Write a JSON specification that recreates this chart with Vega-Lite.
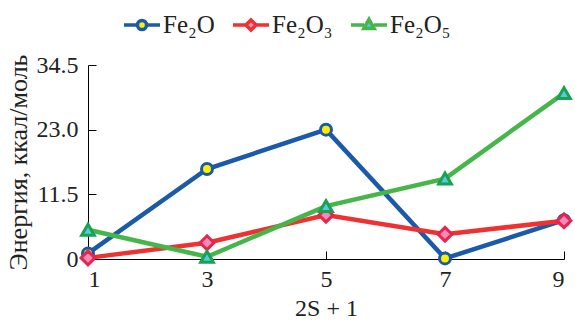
{
  "$schema": "https://vega.github.io/schema/vega-lite/v6.json",
  "width": 476,
  "height": 194,
  "autosize": {"type": "none"},
  "padding": {"left": 88, "top": 65, "right": 11, "bottom": 65},
  "background": "white",
  "config": {
    "view": {"stroke": null},
    "font": "Liberation Serif",
    "legend": {"labelFont": "Liberation Serif"},
    "axis": {"grid": false, "domainColor": "black", "tickColor": "black", "labelColor": "#222", "titleColor": "#222", "labelFont": "Liberation Serif", "titleFont": "Liberation Serif", "labelFontSize": 24, "titleFontSize": 24, "titleFontWeight": "normal", "tickSize": -8, "domainWidth": 1, "tickWidth": 1}
  },
  "data": {"values": [
    {"s": "Fe₂O", "x": 1, "y": 1.0},
    {"s": "Fe₂O", "x": 3, "y": 16.0},
    {"s": "Fe₂O", "x": 5, "y": 23.0},
    {"s": "Fe₂O", "x": 7, "y": 0.1},
    {"s": "Fe₂O", "x": 9, "y": 6.9},
    {"s": "Fe₂O₃", "x": 1, "y": 0.2},
    {"s": "Fe₂O₃", "x": 3, "y": 2.9},
    {"s": "Fe₂O₃", "x": 5, "y": 7.8},
    {"s": "Fe₂O₃", "x": 7, "y": 4.4},
    {"s": "Fe₂O₃", "x": 9, "y": 6.8},
    {"s": "Fe₂O₅", "x": 1, "y": 5.2},
    {"s": "Fe₂O₅", "x": 3, "y": 0.4},
    {"s": "Fe₂O₅", "x": 5, "y": 9.4},
    {"s": "Fe₂O₅", "x": 7, "y": 14.3},
    {"s": "Fe₂O₅", "x": 9, "y": 29.5}
  ]},
  "encoding": {
    "x": {"field": "x", "type": "quantitative", "scale": {"domain": [1, 9], "nice": false}, "axis": {"values": [1, 3, 5, 7, 9], "title": "2S + 1", "labelPadding": 16, "titlePadding": 5}},
    "y": {"field": "y", "type": "quantitative", "scale": {"domain": [0, 34.5], "nice": false}, "axis": {"values": [0, 11.5, 23, 34.5], "labelExpr": "datum.value == 0 ? '0' : format(datum.value, '.1f')", "title": "Энергия, ккал/моль", "titleFontSize": 26, "labelPadding": 18, "titlePadding": 5}}
  },
  "layer": [
    {
      "mark": {"type": "line", "strokeWidth": 4.5},
      "encoding": {
        "color": {"field": "s", "type": "nominal", "scale": {"domain": ["Fe₂O", "Fe₂O₃", "Fe₂O₅"], "range": ["#1b5aa8", "#ee3232", "#46b64a"]},
          "legend": {
            "title": null, "orient": "none", "direction": "horizontal", "legendX": 33, "legendY": -61,
            "labelFont": "Liberation Serif", "labelFontSize": 25, "labelColor": "#222", "symbolSize": 1444, "symbolStrokeWidth": 3.5, "labelOffset": 0, "columnPadding": 10,
            "encode": {"symbols": {"update": {
              "size": {"value": 1444},
              "shape": {"signal": "datum.value === 'Fe₂O' ? 'M-0.95,0L-0.24,0M0.24,0L0.95,0M0.24,0A0.24,0.24 0 1 1 -0.24,0A0.24,0.24 0 1 1 0.24,0Z' : datum.value === 'Fe₂O₃' ? 'M-0.95,0L-0.27,0M0.27,0L0.95,0M0,-0.27L0.27,0L0,0.27L-0.27,0Z' : 'M-0.95,0L-0.26,0M0.26,0L0.95,0M0,-0.3L0.27,0.18L-0.27,0.18Z'"},
              "fill": {"signal": "datum.value === 'Fe₂O' ? '#ffee00' : datum.value === 'Fe₂O₃' ? '#f08cba' : '#5bc5ea'"},
              "stroke": {"signal": "datum.value === 'Fe₂O' ? '#1b5aa8' : datum.value === 'Fe₂O₃' ? '#e8244e' : '#18a34e'"}
            }}}
          }
        }
      }
    },
    {
      "transform": [{"filter": "datum.s === 'Fe₂O'"}],
      "mark": {"type": "point", "shape": "circle", "size": 120, "fill": "#ffee00", "stroke": "#1b5aa8", "strokeWidth": 3, "opacity": 1}
    },
    {
      "transform": [{"filter": "datum.s === 'Fe₂O₃'"}],
      "mark": {"type": "point", "shape": "diamond", "size": 190, "fill": "#f08cba", "stroke": "#e8244e", "strokeWidth": 3, "opacity": 1}
    },
    {
      "transform": [{"filter": "datum.s === 'Fe₂O₅'"}],
      "mark": {"type": "point", "shape": "triangle-up", "size": 160, "fill": "#5bc5ea", "stroke": "#18a34e", "strokeWidth": 3, "opacity": 1}
    }
  ]
}
